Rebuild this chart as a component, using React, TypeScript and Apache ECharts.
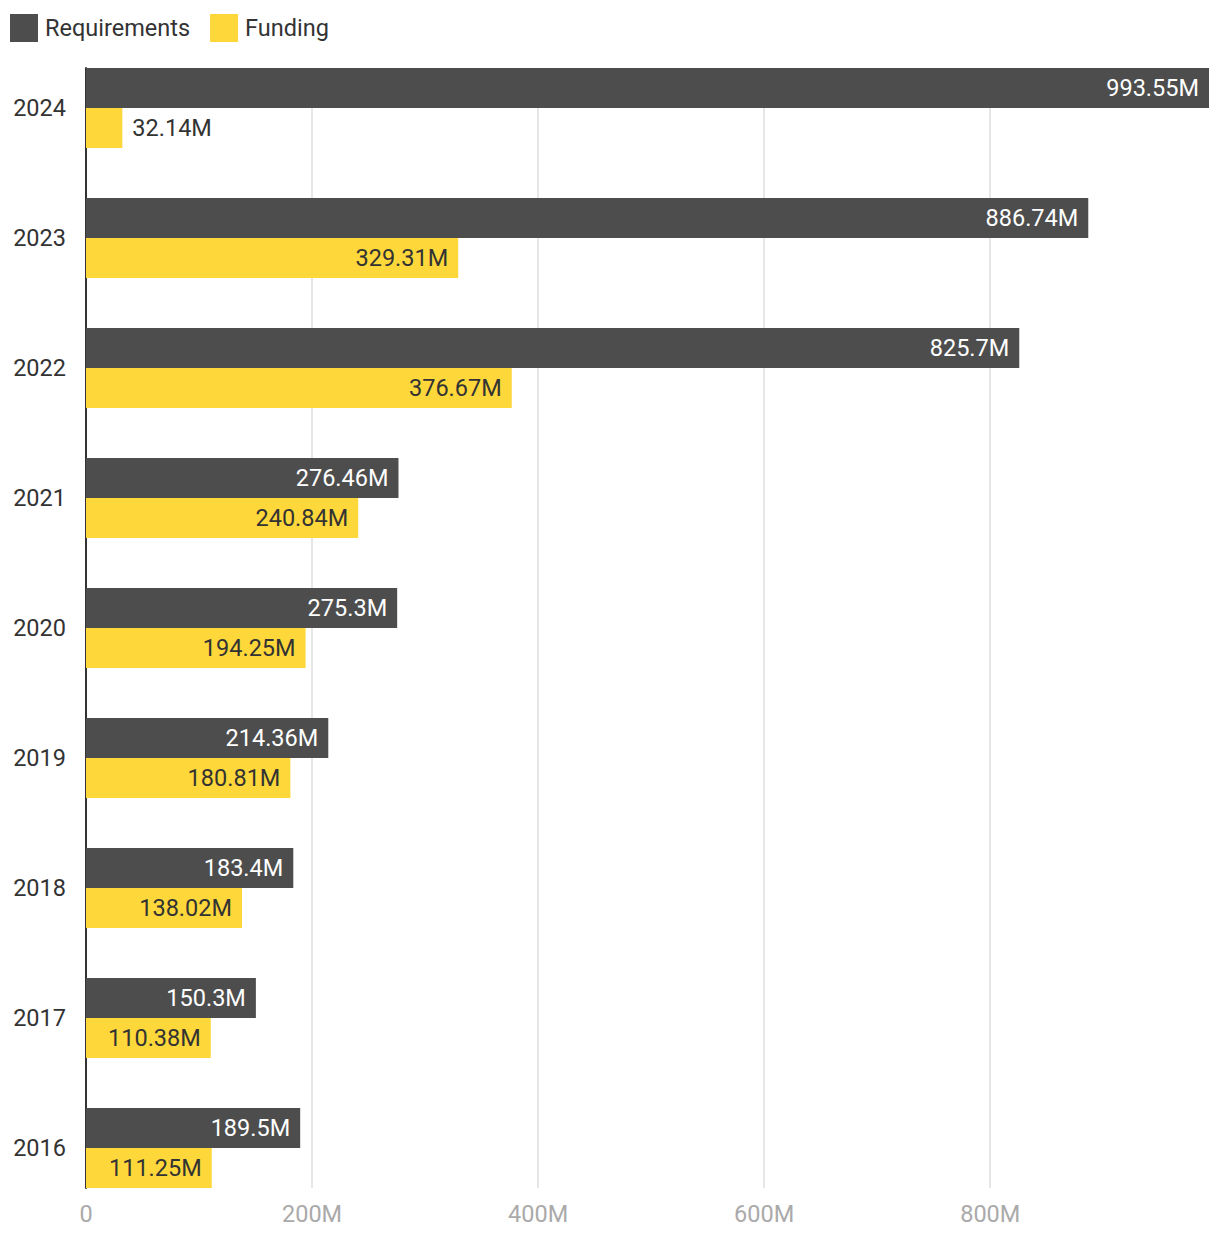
import React, { useEffect, useRef } from "react";
import * as echarts from "echarts";

const years = ["2024", "2023", "2022", "2021", "2020", "2019", "2018", "2017", "2016"];
const requirements = [993.55, 886.74, 825.7, 276.46, 275.3, 214.36, 183.4, 150.3, 189.5];
const funding = [32.14, 329.31, 376.67, 240.84, 194.25, 180.81, 138.02, 110.38, 111.25];
const xTickInterval = 200;

const FONT = "Roboto";
const FS = 23.5;

export default function App() {
  const ref = useRef<HTMLDivElement>(null);
  useEffect(() => {
    document.body.style.margin = "0";
    const chart = echarts.init(ref.current!, null, { renderer: "svg" });
    const maxVal = Math.max(...requirements, ...funding);
    const fmt = (v: number) => `${v}M`;
    const option: any = {
      animation: false,
      textStyle: { fontFamily: FONT },
      legend: {
        left: 5,
        top: 9,
        itemWidth: 28,
        itemHeight: 28,
        itemGap: 20,
        icon: "rect",
        textStyle: { fontSize: FS, color: "#333", fontFamily: FONT, padding: [0, 0, 0, 2] },
        data: ["Requirements", "Funding"],
      },
      grid: [
        { left: 86, right: 11, top: 43, height: 1170 },
        { left: 86, right: 11, top: 68, height: 1120 },
      ],
      xAxis: [
        { gridIndex: 0, type: "value", min: 0, max: maxVal, show: false },
        {
          gridIndex: 1,
          type: "value",
          min: 0,
          max: maxVal,
          interval: xTickInterval,
          axisLine: { show: false },
          axisTick: { show: false },
          axisLabel: {
            color: "#aaa",
            fontSize: FS,
            fontFamily: FONT,
            margin: 14,
            showMaxLabel: false,
            formatter: (v: number) => (v === 0 ? "0" : `${v}M`),
          },
          splitLine: { show: true, showMaxLine: false, lineStyle: { color: "#e6e6e6", width: 2 } },
        },
      ],
      yAxis: [
        {
          gridIndex: 0,
          type: "category",
          inverse: true,
          data: years,
          axisLine: { show: false },
          axisTick: { show: false },
          axisLabel: { color: "#333", fontSize: FS, fontFamily: FONT, margin: 20 },
        },
        {
          gridIndex: 1,
          type: "value",
          min: 0,
          max: 1,
          axisLine: { show: true, lineStyle: { color: "#333", width: 2 } },
          axisTick: { show: false },
          axisLabel: { show: false },
          splitLine: { show: false },
        },
      ],
      series: [
        {
          name: "Requirements",
          type: "bar",
          xAxisIndex: 0,
          yAxisIndex: 0,
          barWidth: 40,
          barGap: "0%",
          itemStyle: { color: "#4d4d4d" },
          label: {
            show: true,
            position: "insideRight",
            distance: 10,
            color: "#fff",
            fontSize: FS,
            fontFamily: FONT,
            formatter: (p: any) => fmt(p.value),
          },
          data: requirements,
        },
        {
          name: "Funding",
          type: "bar",
          xAxisIndex: 0,
          yAxisIndex: 0,
          barWidth: 40,
          barGap: "0%",
          itemStyle: { color: "#fed83a" },
          label: {
            show: true,
            position: "insideRight",
            distance: 10,
            color: "#333",
            fontSize: FS,
            fontFamily: FONT,
            formatter: (p: any) => fmt(p.value),
          },
          data: funding.map((v) =>
            v < 80 ? { value: v, label: { position: "right", distance: 10 } } : v
          ),
        },
      ],
    };
    chart.setOption(option);
    return () => chart.dispose();
  }, []);
  return <div ref={ref} style={{ position: "absolute", left: 0, top: 0, width: 1220, height: 1236 }} />;
}
